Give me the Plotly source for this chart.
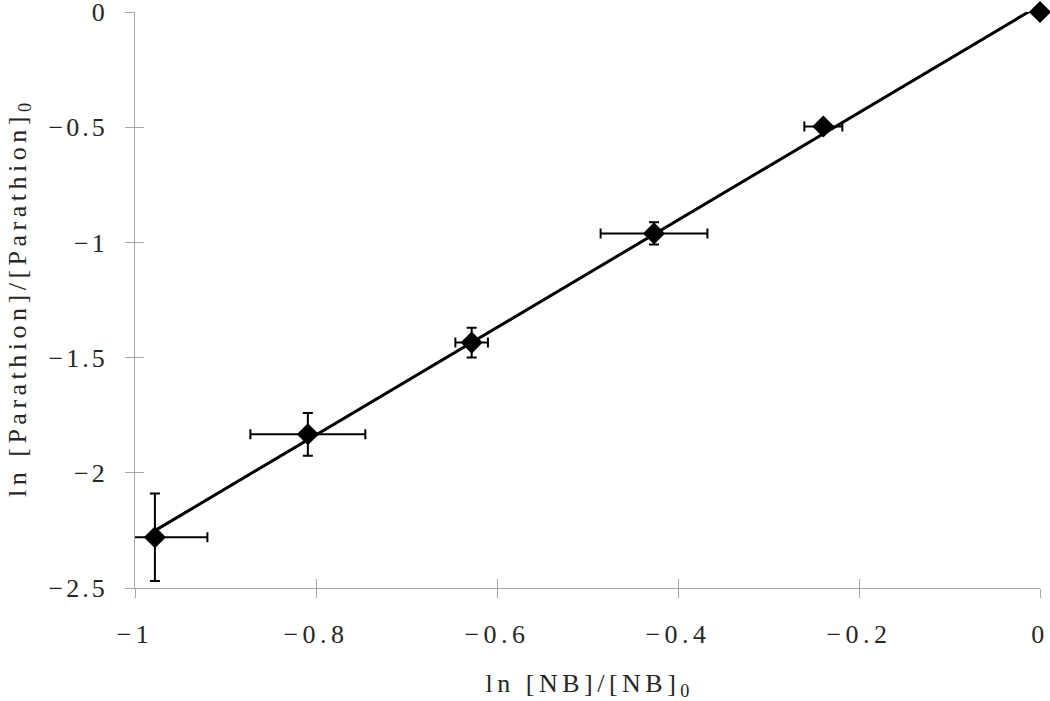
import numpy as np
import plotly.graph_objects as go

# measured points: ln[NB]/[NB]0 vs ln[Parathion]/[Parathion]0
ln_nb = [-0.978, -0.809, -0.628, -0.4265, -0.2394, 0.0]
ln_par = [-2.28, -1.833, -1.435, -0.961, -0.497, 0.0]
err_x = [0.058, 0.0635, 0.018, 0.059, 0.021, 0.0]
err_y = [0.19, 0.093, 0.065, 0.048, 0.0, 0.0]

x_ticks = [-1, -0.8, -0.6, -0.4, -0.2, 0]
x_ticktext = ["−1", "−0.8", "−0.6", "−0.4", "−0.2", "0"]
y_ticks = [-2.5, -2, -1.5, -1, -0.5, 0]
y_ticktext = ["−2.5", "−2", "−1.5", "−1", "−0.5", "0"]

# linear trendline (least squares, like the spreadsheet one)
slope, intercept = np.polyfit(ln_nb, ln_par, 1)
trend_x = np.array([min(ln_nb), max(ln_nb)])
trend_y = slope * trend_x + intercept

font_family = "Liberation Serif, DejaVu Serif, serif"
axis_grey = "#a6a6a6"
text_col = "#262626"


def spaced(s, px=4.5):
    # wide letter spacing to get close to the song-style font of the original
    return '<span style="letter-spacing:%spx">' % px + s + "</span>"


fig = go.Figure()

fig.add_trace(go.Scatter(
    x=trend_x, y=trend_y, mode="lines",
    line=dict(color="black", width=3),
    showlegend=False, hoverinfo="skip"
))

# error bars (clipped to plot area)
fig.add_trace(go.Scatter(
    x=ln_nb, y=ln_par, mode="markers",
    marker=dict(size=1, color="rgba(0,0,0,0)"),
    error_x=dict(type="data", array=err_x, color="black", thickness=2, width=5),
    error_y=dict(type="data", array=err_y, color="black", thickness=2, width=5),
    showlegend=False, hoverinfo="skip"
))

# markers, not clipped so the one at the origin stays whole
fig.add_trace(go.Scatter(
    x=ln_nb, y=ln_par, mode="markers", cliponaxis=False,
    marker=dict(symbol="diamond", size=17, color="black"),
    showlegend=False
))

# invisible trace on the overlay axes (they give the inner half of the cross ticks)
fig.add_trace(go.Scatter(x=[None], y=[None], xaxis="x2", yaxis="y2",
                         showlegend=False, hoverinfo="skip"))

fig.update_layout(
    width=1050, height=701,
    paper_bgcolor="white", plot_bgcolor="white",
    margin=dict(l=135, r=10, t=12, b=113),
    font=dict(family=font_family, size=26, color=text_col),
    xaxis=dict(
        range=[-1, 0], tickvals=x_ticks, ticktext=[spaced(t) for t in x_ticktext],
        showgrid=False, zeroline=False, automargin=False,
        showline=True, linecolor=axis_grey, linewidth=1.3,
        ticks="outside", ticklen=9, tickcolor=axis_grey, tickwidth=1.3,
        ticklabelstandoff=14, ticklabeloverflow="allow",
        title=dict(text=spaced("ln [NB]/[NB]") + "<sub>0</sub>", standoff=25,
                   font=dict(size=26, color=text_col)),
    ),
    yaxis=dict(
        range=[-2.5, 0], tickvals=y_ticks, ticktext=[spaced(t, 3) for t in y_ticktext],
        showgrid=False, zeroline=False, automargin=False,
        showline=True, linecolor=axis_grey, linewidth=1.3,
        ticks="outside", ticklen=9, tickcolor=axis_grey, tickwidth=1.3,
        ticklabelstandoff=12, ticklabeloverflow="allow",
        title=dict(text=spaced("ln [Parathion]/[Parathion]") + "<sub>0</sub>", standoff=14,
                   font=dict(size=26, color=text_col)),
    ),
    xaxis2=dict(
        overlaying="x", range=[-1, 0], tickvals=x_ticks, automargin=False,
        showticklabels=False, showgrid=False, zeroline=False, showline=False,
        ticks="inside", ticklen=9, tickcolor=axis_grey, tickwidth=1.3,
        side="bottom",
    ),
    yaxis2=dict(
        overlaying="y", range=[-2.5, 0], tickvals=y_ticks, automargin=False,
        showticklabels=False, showgrid=False, zeroline=False, showline=False,
        ticks="inside", ticklen=9, tickcolor=axis_grey, tickwidth=1.3,
        side="left",
    ),
)

# drop the default 8px body margin so the figure fills the window exactly
fig.write_html("out.html", config={"displayModeBar": False},
               post_script="document.body.style.margin='0';")
